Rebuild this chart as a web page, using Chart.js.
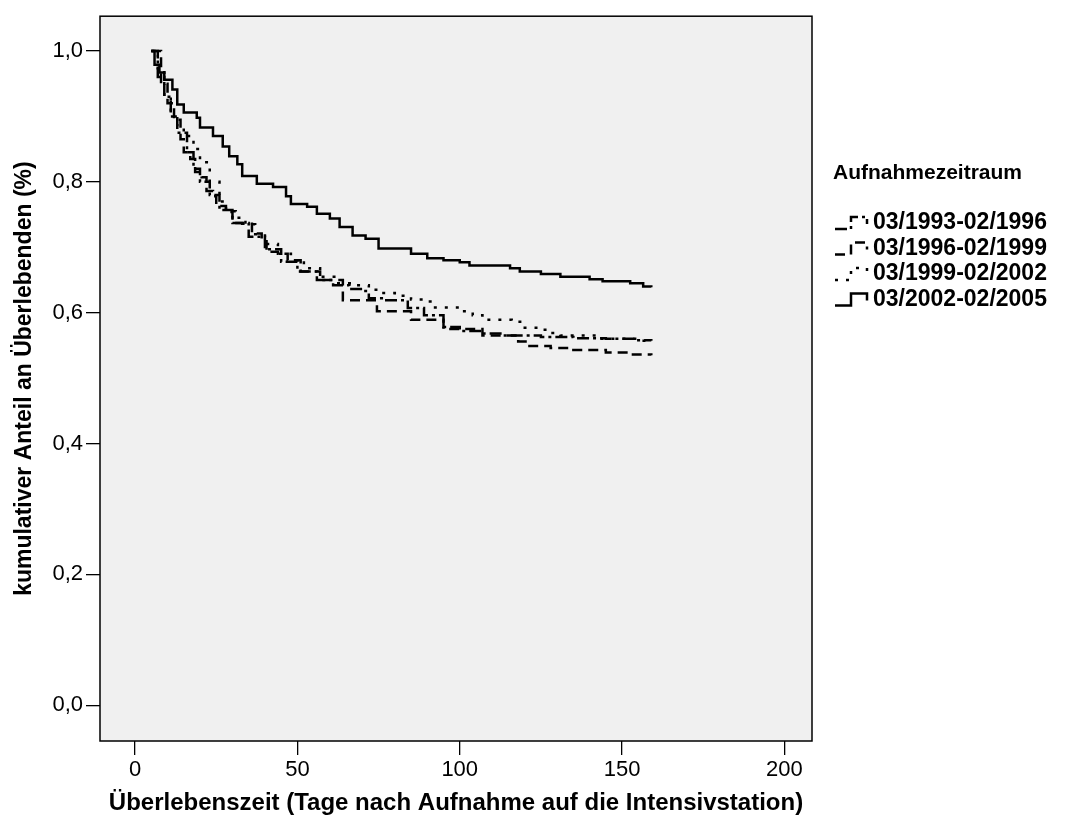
<!DOCTYPE html>
<html>
<head>
<meta charset="utf-8">
<title>Kaplan-Meier Überlebenskurven</title>
<script src="https://cdn.jsdelivr.net/npm/chart.js@4.4.1/dist/chart.umd.min.js"></script>
<style>
    html, body { margin: 0; padding: 0; background: #ffffff; }
    canvas { display: block; }
</style>
</head>
<body>
<canvas id="chartUeberleben" width="1066" height="818"></canvas>
<script>
// Kaplan-Meier: kumulativer Anteil an Überlebenden nach Aufnahmezeitraum

const FONT = "'Liberation Sans', Arial, sans-serif";

// Achsen
const X_TICKS = [0, 50, 100, 150, 200];
const Y_TICKS = [0, 0.2, 0.4, 0.6, 0.8, 1.0];

// Legende
const LEGEND_TITLE = 'Aufnahmezeitraum';
const LABELS = ['03/1993-02/1996', '03/1996-02/1999', '03/1999-02/2002', '03/2002-02/2005'];

// 03/1993-02/1996 (Strich-Punkt)
const DAYS_9396 = [5, 7, 9, 11, 13, 16, 18, 20, 23, 26, 30, 35, 40, 45, 50, 56, 61, 66, 70, 72, 76, 84, 89, 95, 100, 107, 113, 125, 135, 145, 155, 159];
const SURV_9396 = [1.0, 0.96, 0.93, 0.90, 0.875, 0.845, 0.82, 0.80, 0.78, 0.757, 0.737, 0.716, 0.697, 0.678, 0.663, 0.650, 0.642, 0.636, 0.633, 0.622, 0.619, 0.607, 0.596, 0.578, 0.572, 0.568, 0.565, 0.563, 0.561, 0.560, 0.558, 0.557];

// 03/1996-02/1999 (gestrichelt)
const DAYS_9699 = [5, 8, 10, 12, 14, 15, 17, 18.5, 20.5, 22, 24, 25, 28, 30, 33, 36, 39, 40.5, 44, 47, 51, 57, 64, 74.5, 85, 95, 107, 118, 121, 128, 135, 145, 152, 159];
const SURV_9699 = [1.0, 0.95, 0.92, 0.895, 0.865, 0.845, 0.835, 0.815, 0.807, 0.786, 0.778, 0.763, 0.754, 0.737, 0.736, 0.721, 0.709, 0.693, 0.690, 0.680, 0.663, 0.650, 0.619, 0.602, 0.589, 0.575, 0.565, 0.556, 0.549, 0.546, 0.543, 0.539, 0.536, 0.535];

// 03/1999-02/2002 (gepunktet)
const DAYS_9902 = [5, 7, 9, 11, 13, 15, 18, 20, 23, 26, 28, 31, 34, 37, 40, 44, 48, 52, 57, 62, 68, 72, 76, 80, 85, 89, 92, 100, 104, 107, 116, 119, 124, 127, 131, 142, 156, 159];
const SURV_9902 = [1.0, 0.97, 0.93, 0.90, 0.885, 0.87, 0.85, 0.83, 0.80, 0.77, 0.755, 0.745, 0.735, 0.72, 0.705, 0.69, 0.68, 0.668, 0.655, 0.645, 0.642, 0.635, 0.63, 0.626, 0.62, 0.617, 0.608, 0.602, 0.596, 0.589, 0.586, 0.577, 0.574, 0.569, 0.565, 0.56, 0.557, 0.554];

// 03/2002-02/2005 (durchgezogen)
const DAYS_0205 = [5, 6, 7.5, 9, 11.5, 13, 15, 19, 20, 24, 27, 29, 31.5, 33, 37.5, 42.5, 46.5, 48, 53, 56, 60, 63, 67, 71, 75, 85, 90, 95, 100, 103, 115.5, 118.5, 125, 131, 140, 144, 152.5, 156.5, 159];
const SURV_0205 = [1.0, 0.979, 0.967, 0.956, 0.941, 0.918, 0.906, 0.898, 0.883, 0.870, 0.854, 0.839, 0.827, 0.809, 0.797, 0.792, 0.778, 0.766, 0.762, 0.751, 0.744, 0.731, 0.718, 0.713, 0.698, 0.690, 0.683, 0.680, 0.677, 0.672, 0.668, 0.663, 0.659, 0.655, 0.651, 0.648, 0.645, 0.640, 0.639];

const DASHES = [[12, 4, 3, 4], [10, 6], [3, 8], []];

function toPoints(days, surv) {
    return days.map((d, i) => ({ x: d, y: surv[i] }));
}

const SERIES = [
    toPoints(DAYS_9396, SURV_9396),
    toPoints(DAYS_9699, SURV_9699),
    toPoints(DAYS_9902, SURV_9902),
    toPoints(DAYS_0205, SURV_0205)
];

// Hintergrund und Rahmen des Diagrammbereichs
const plotFrame = {
    id: 'plotFrame',
    beforeDatasetsDraw(chart) {
        const { ctx, chartArea: a } = chart;
        ctx.save();
        ctx.fillStyle = '#f0f0f0';
        ctx.fillRect(a.left, a.top, a.right - a.left, a.bottom - a.top);
        ctx.restore();
    },
    afterDatasetsDraw(chart) {
        const { ctx, chartArea: a } = chart;
        ctx.save();
        ctx.strokeStyle = '#000';
        ctx.lineWidth = 1.5;
        ctx.strokeRect(a.left, a.top, a.right - a.left, a.bottom - a.top);
        ctx.restore();
    }
};

// Legende rechts, wie im SPSS-Ausdruck
const sideLegend = {
    id: 'sideLegend',
    afterDraw(chart) {
        const ctx = chart.ctx;
        const x0 = 833;
        ctx.save();
        ctx.fillStyle = '#000';
        ctx.textBaseline = 'middle';
        ctx.font = 'bold 21px ' + FONT;
        ctx.fillText(LEGEND_TITLE, x0, 173);
        ctx.font = 'bold 23px ' + FONT;
        LABELS.forEach((label, i) => {
            const y = 222 + i * 25.5;
            ctx.strokeStyle = '#000';
            ctx.lineWidth = 2.5;
            ctx.setLineDash(DASHES[i]);
            ctx.beginPath();
            ctx.moveTo(x0 + 2, y + 7);
            ctx.lineTo(x0 + 18, y + 7);
            ctx.lineTo(x0 + 18, y - 5);
            ctx.lineTo(x0 + 34, y - 5);
            ctx.lineTo(x0 + 34, y + 2);
            ctx.stroke();
            ctx.setLineDash([]);
            ctx.fillText(label, x0 + 40, y + 1);
        });
        ctx.restore();
    }
};

const ctx = document.getElementById('chartUeberleben');

new Chart(ctx, {
    type: 'line',
    data: {
        datasets: SERIES.map((pts, i) => ({
            label: LABELS[i],
            data: pts,
            stepped: true,
            borderColor: '#000',
            borderWidth: 2.5,
            borderDash: DASHES[i],
            pointRadius: 0,
            fill: false
        }))
    },
    options: {
        responsive: false,
        animation: false,
        devicePixelRatio: 1,
        layout: {
            padding: { top: 11, right: 254, left: 0, bottom: 0 }
        },
        plugins: {
            legend: { display: false },
            tooltip: { enabled: false }
        },
        scales: {
            x: {
                type: 'linear',
                min: -10.8,
                max: 208.5,
                afterBuildTicks: (scale) => { scale.ticks = X_TICKS.map(v => ({ value: v })); },
                afterFit: (scale) => { scale.height = 77; },
                border: { display: false },
                grid: {
                    drawOnChartArea: false,
                    tickLength: 14,
                    color: '#000',
                    lineWidth: 1.3
                },
                ticks: {
                    color: '#000',
                    padding: 2,
                    maxRotation: 0,
                    font: { family: FONT, size: 22 }
                },
                title: {
                    display: true,
                    text: 'Überlebenszeit (Tage nach Aufnahme auf die Intensivstation)',
                    color: '#000',
                    padding: { top: 0, bottom: 0 },
                    font: { family: FONT, size: 24, weight: 'bold' }
                }
            },
            y: {
                type: 'linear',
                min: -0.0546,
                max: 1.0531,
                afterBuildTicks: (scale) => { scale.ticks = Y_TICKS.map(v => ({ value: v })); },
                afterFit: (scale) => { scale.width = 100; },
                border: { display: false },
                grid: {
                    drawOnChartArea: false,
                    tickLength: 14,
                    color: '#000',
                    lineWidth: 1.3
                },
                ticks: {
                    color: '#000',
                    padding: 3,
                    font: { family: FONT, size: 22 },
                    callback: (v) => v.toFixed(1).replace('.', ',')
                },
                title: {
                    display: true,
                    text: 'kumulativer Anteil an Überlebenden (%)',
                    color: '#000',
                    padding: { top: 11, bottom: 0 },
                    font: { family: FONT, size: 23, weight: 'bold' }
                }
            }
        }
    },
    plugins: [plotFrame, sideLegend]
});
</script>
</body>
</html>
